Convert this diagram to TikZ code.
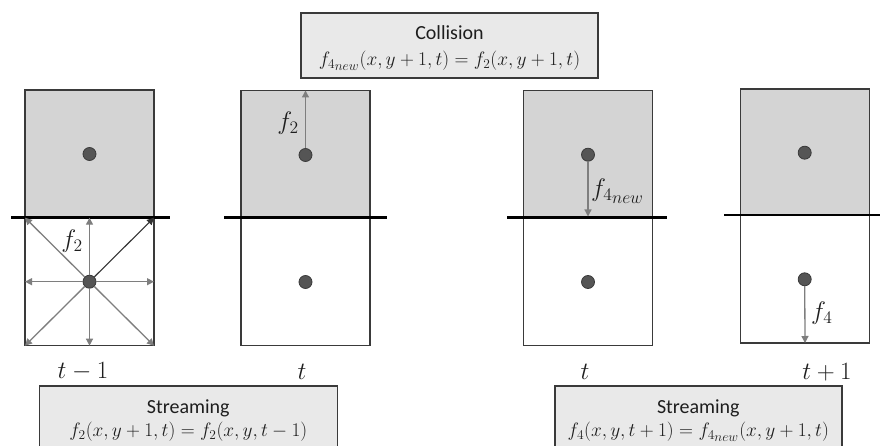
\documentclass[tikz,border=0pt]{standalone}
\usepackage{graphicx}
\usepackage{fontspec}
\setmainfont{Carlito}
\usetikzlibrary{arrows.meta}
\definecolor{cellgray}{HTML}{D4D4D4}
\definecolor{boxgray}{HTML}{E9E9E9}
\definecolor{edge}{HTML}{3A3A3A}
\definecolor{arrgray}{HTML}{7E7E7E}
\definecolor{dotfill}{HTML}{555555}
\definecolor{ink}{HTML}{1E1E1E}
\newcommand\eqscale[1]{\scalebox{1.12}{#1}}
\newcommand\labscale[1]{\scalebox{1.22}{#1}}
\newcommand\fnew{f_{4_{\scriptstyle new}}}
\begin{document}
\begin{tikzpicture}[x=1pt,y=-1pt,
  cellbox/.style={draw=edge, line width=1.4pt, minimum width=129pt, minimum height=128pt, inner sep=0pt, outer sep=0pt},
  topcell/.style={cellbox, fill=cellgray},
  botcell/.style={cellbox, fill=white},
  dot/.style={circle, draw=edge, fill=dotfill, line width=0.8pt, minimum size=13pt, inner sep=0pt},
  wall/.style={draw=black, line width=2.6pt},
  arr/.style={draw=arrgray, line width=1.3pt, -{Triangle[length=7pt,width=7pt]}},
  darkarr/.style={draw=black!80, line width=1.1pt, -{Triangle[length=7pt,width=7pt]}},
  flab/.style={font=\fontsize{20}{24}\selectfont, text=ink, inner sep=0pt},
  tlab/.style={font=\fontsize{25}{30}\selectfont, text=ink, inner sep=0pt},
  infobox/.style={draw=edge, fill=boxgray, line width=1.6pt, inner sep=0pt, outer sep=0pt},
  boxtitle/.style={font=\fontsize{20}{24}\selectfont, text=ink, inner sep=0pt},
  boxeq/.style={font=\fontsize{17}{20}\selectfont, text=ink, inner sep=0pt}
]
\useasboundingbox (0,0) rectangle (880,446);
\fill[white] (0,0) rectangle (880,446);

% ---------- Panel 1 (t-1) ----------
\node[topcell] (c1t) at (89.5,154) {};
\node[botcell] (c1b) at (89.5,281.7) {};
\draw[wall] (11,217.7) -- (170,217.7);
\node[dot] (d1t) at (89.5,154) {};
\node[dot] (d1b) at (89.5,281.7) {};
\draw[arr] (d1b) -- (c1b.north);
\draw[arr] (d1b) -- (c1b.south);
\draw[arr] (d1b) -- (c1b.east);
\draw[arr] (d1b) -- (c1b.west);
\draw[arr] (d1b) -- (c1b.north west);
\draw[arr] (d1b) -- (c1b.south west);
\draw[arr] (d1b) -- (c1b.south east);
\draw[darkarr] (d1b) -- (c1b.north east);
\node[flab] (l1) at (72,241) {\labscale{$f_2$}};

% ---------- Panel 2 (t) ----------
\node[topcell] (c2t) at (305.5,154.5) {};
\node[botcell] (c2b) at (305.5,281.7) {};
\draw[wall] (224,217.7) -- (387,217.7);
\node[dot] (d2t) at (305.5,155) {};
\node[dot] (d2b) at (305.5,282) {};
\draw[arr] (d2t) -- (c2t.north);
\node[flab] (l2) at (288,123) {\labscale{$f_2$}};

% ---------- Panel 3 (t) ----------
\node[topcell] (c3t) at (588,154.5) {};
\node[botcell] (c3b) at (588,281.7) {};
\draw[wall] (507,217.7) -- (667,217.7);
\node[dot] (d3t) at (588,154.7) {};
\node[dot] (d3b) at (588,282) {};
\coordinate (w3) at (588,216.5);
\draw[arr] (d3t) -- (w3);
\node[flab, anchor=west] (l3) at (591,191) {\labscale{$\fnew$}};

% ---------- Panel 4 (t+1) ----------
\node[topcell, minimum height=126pt] (c4t) at (805,152) {};
\node[botcell] (c4b) at (805,279) {};
\draw[wall] (724,215) -- (880,215);
\node[dot] (d4t) at (804.7,152.7) {};
\node[dot] (d4b) at (804.7,279.3) {};
\draw[arr] (d4b) -- (c4b.south);
\node[flab, anchor=west] (l4) at (811,313) {\labscale{$f_4$}};

% ---------- time labels ----------
\node[tlab] (t1) at (83,372) {$t-1$};
\node[tlab] (t2) at (302,372) {$t$};
\node[tlab] (t3) at (585,372) {$t$};
\node[tlab] (t4) at (827,372) {$t+1$};

% ---------- info boxes ----------
\node[infobox, minimum width=297pt, minimum height=64.5pt] (coll) at (449.5,45.5) {};
\node[boxtitle] (collT) at (449.5,33) {Collision};
\node[boxeq] (collE) at (449.5,61) {\eqscale{$\fnew(x,y+1,t)=f_2(x,y+1,t)$}};

\node[infobox, minimum width=298pt, minimum height=72pt] (s1) at (188.3,422) {};
\node[boxtitle] (s1T) at (188.3,408) {Streaming};
\node[boxeq] (s1E) at (188.3,432) {\eqscale{$f_2(x,y+1,t)=f_2(x,y,t-1)$}};

\node[infobox, minimum width=287pt, minimum height=72pt] (s2) at (698.3,422) {};
\node[boxtitle] (s2T) at (698.3,408) {Streaming};
\node[boxeq] (s2E) at (698.3,432) {\eqscale{$f_4(x,y,t+1)=\fnew(x,y+1,t)$}};
\end{tikzpicture}
\end{document}
